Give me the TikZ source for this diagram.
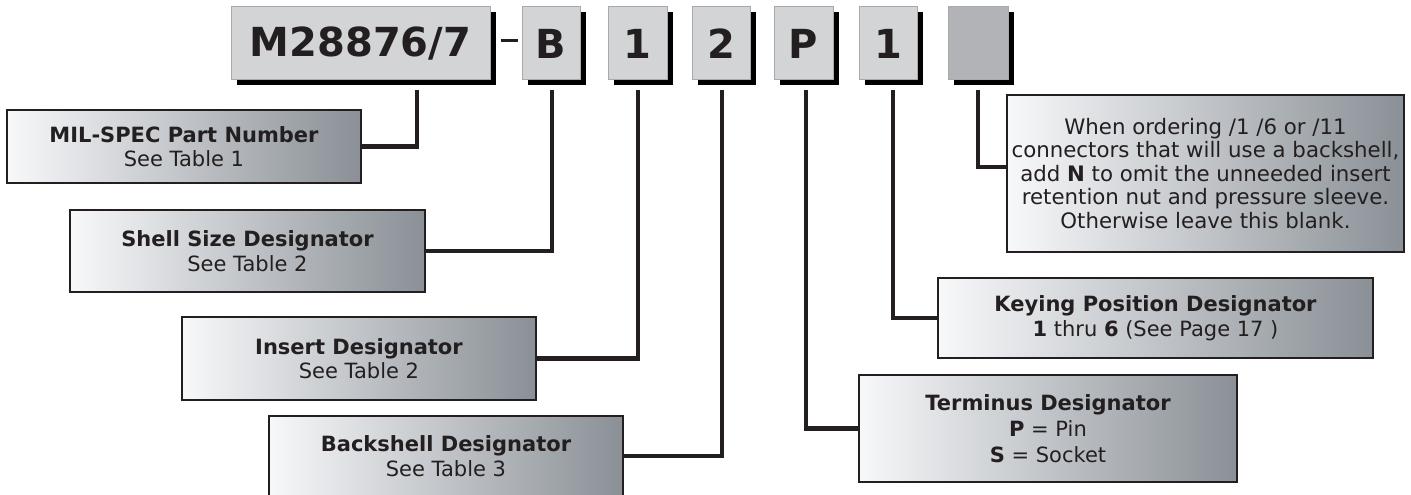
\documentclass[tikz,border=0pt]{standalone}
\usepackage{fontspec}
\setmainfont{DejaVu Sans}
\usetikzlibrary{shadows}
\definecolor{ink}{HTML}{231F20}
\definecolor{keyfill}{HTML}{D3D4D6}
\definecolor{keyedge}{HTML}{A7A9AC}
\definecolor{blankfill}{HTML}{B1B3B6}
\definecolor{gradL}{HTML}{F7F8FA}
\definecolor{gradR}{HTML}{8A9096}
\tikzset{
  keybox/.style={draw=keyedge, line width=1pt, fill=keyfill, text=ink,
    minimum height=73pt, inner sep=0pt, font=\fontsize{40}{44}\selectfont\bfseries,
    drop shadow={shadow xshift=6pt, shadow yshift=-5pt, fill=black, opacity=1}},
  infobox/.style={draw=ink, line width=1.6pt, left color=gradL, right color=gradR,
    text=ink, align=center, inner sep=0pt, font=\fontsize{21}{24.5}\selectfont},
  conn/.style={draw=ink, line width=4.6pt},
}
\begin{document}
\begin{tikzpicture}[x=1pt,y=-1pt]
\useasboundingbox (0,0) rectangle (1411,495);
% top part-number boxes
\node[keybox, minimum width=259pt] (kM) at (360.5,43.5) {M28876/7};
\node[keybox, minimum width=58pt] (kB) at (551,43.5) {B};
\node[keybox, minimum width=59pt] (k1) at (637.5,43.5) {1};
\node[keybox, minimum width=58pt] (k2) at (721,43.5) {2};
\node[keybox, minimum width=59pt] (kP) at (803.5,43.5) {P};
\node[keybox, minimum width=58pt] (kK) at (888,43.5) {1};
\node[keybox, minimum width=60pt, fill=blankfill] (kN) at (978,43.5) {};
\draw[ink, line width=3pt] (kM.east) ++(10pt,3pt) coordinate (d1) -- ++(17pt,0) coordinate (d2);
% info boxes
\node[infobox, minimum width=354pt, minimum height=73pt] (mil) at (184,146.5)
  {\textbf{MIL-SPEC Part Number}\\See Table 1};
\node[infobox, minimum width=355pt, minimum height=82pt] (shell) at (247.5,251)
  {\textbf{Shell Size Designator}\\See Table 2};
\node[infobox, minimum width=354pt, minimum height=83pt] (insert) at (359,358.5)
  {\textbf{Insert Designator}\\See Table 2};
\node[infobox, minimum width=354pt, minimum height=80pt] (back) at (446,456)
  {\textbf{Backshell Designator}\\See Table 3};
\node[infobox, minimum width=378pt, minimum height=107pt, font=\fontsize{21}{26}\selectfont] (term) at (1048,428.5)
  {\textbf{Terminus Designator}\\\textbf{P} = Pin\\\textbf{S} = Socket};
\node[infobox, minimum width=435pt, minimum height=80pt] (key) at (1155.5,318)
  {\textbf{Keying Position Designator}\\\textbf{1} thru \textbf{6} (See Page 17 )};
\node[infobox, minimum width=397pt, minimum height=157pt, font=\fontsize{21.3}{23.5}\selectfont] (note) at (1205.5,173.5)
  {When ordering /1 /6 or /11\\connectors that will use a backshell,\\add \textbf{N} to omit the unneeded insert\\retention nut and pressure sleeve.\\Otherwise leave this blank.};
% connector taps
\coordinate (tM) at (417,90);
\coordinate (tB) at (552,90);
\coordinate (t1) at (638,90);
\coordinate (t2) at (722,90);
\coordinate (tP) at (806,90);
\coordinate (tK) at (893,90);
\coordinate (tN) at (978,90);
\draw[conn] (tM) |- (mil.east);
\draw[conn] (tB) |- (shell.east);
\draw[conn] (t1) |- (insert.east);
\draw[conn] (t2) |- (back.east);
\draw[conn] (tP) |- (term.west);
\draw[conn] (tK) |- (key.west);
\draw[conn] (tN) |- ([yshift=6.5pt]note.west);
\end{tikzpicture}
\end{document}
